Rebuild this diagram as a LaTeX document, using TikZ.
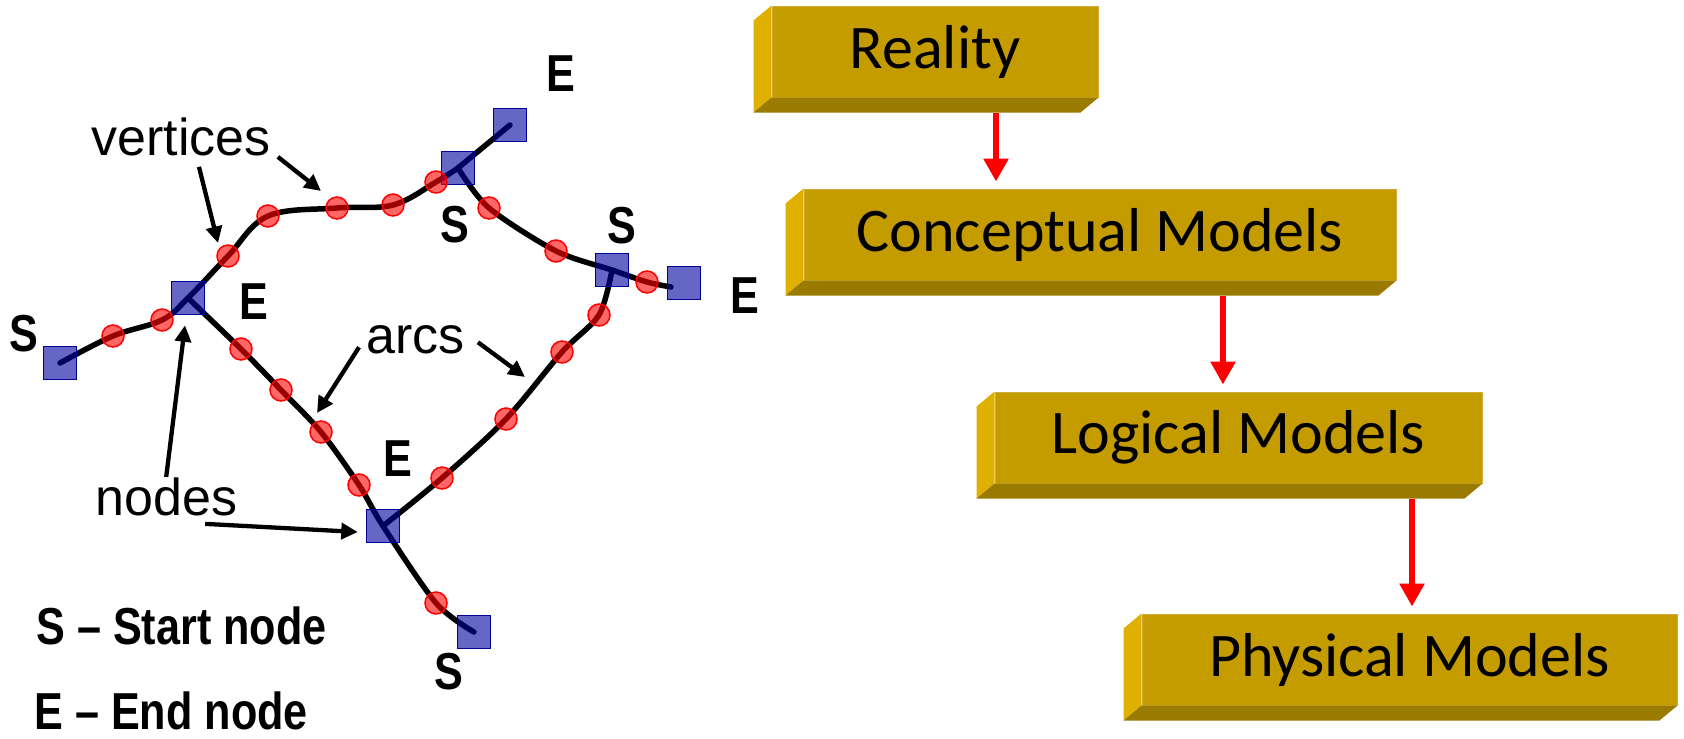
\documentclass[tikz,border=0pt]{standalone}
\usepackage{fontspec}
\setmainfont{Liberation Sans}
\newfontfamily\tagfamily[FakeStretch=0.83]{Liberation Sans}
\newfontfamily\slabfamily{Carlito}
\usepackage{tikz}
\usetikzlibrary{arrows.meta, backgrounds}
\newlength{\pxu}
\setlength{\pxu}{0.02cm}

\begin{document}
\begin{tikzpicture}[x=0.02cm, y=-0.02cm,
    track/.style={line width=5.5\pxu, line cap=round},
    vertex/.style={circle, minimum size=22\pxu, inner sep=0pt, draw=red, line width=1.5\pxu, fill=red, fill opacity=0.6},
    gnode/.style={rectangle, minimum size=33\pxu, inner sep=0pt, draw=nodeedge, line width=1.5\pxu, fill=nodefill, fill opacity=0.6},
    tag/.style={inner sep=0pt, font=\tagfamily\bfseries\fontsize{29.6pt}{32pt}\selectfont},
    callout/.style={inner sep=0pt, font=\fontsize{29.6pt}{32pt}\selectfont},
    note/.style={line width=4.3\pxu, -{Triangle[width=0.32cm, length=0.33cm]}},
    slab/.style={fill=slabfront, draw=slabedge, line width=1\pxu, minimum height=91\pxu, inner sep=0pt, font=\slabfamily\fontsize{35.3pt}{40pt}\selectfont},
    flow/.style={red, line width=6\pxu, -{Triangle[width=0.48cm, length=0.46cm]}, shorten <=15\pxu, shorten >=7\pxu}]
      \definecolor{slabfront}{RGB}{196,156,0} \definecolor{slabside}{RGB}{224,176,0}
      \definecolor{slabbottom}{RGB}{154,122,0} \definecolor{slabedge}{RGB}{208,172,60}
      \definecolor{nodefill}{RGB}{0,0,160} \definecolor{nodeedge}{RGB}{0,0,150}
      \useasboundingbox (0,0) rectangle (1684,738);

      % the network: nodes, vertices and labels
      \foreach \n/\x/\y in {nS1/60/363, nA/188/298, nS2/458/168, nE1/510/125, nSR/612/270, nER/684/283, nB/383/526, nS3/474/632}
        \node[gnode] (\n) at (\x,\y) {};
      \foreach \n/\x/\y in {v1/113/336, v2/162/320, v3/228/256, v4/268/216, v5/337/208, v6/393/205, v7/436/182,
                            v8/489/208, v9/556/251, v10/647/282, v11/599/315, v12/562/352, v13/506/419, v14/442/478,
                            v15/241/349, v16/281/390, v17/321/432, v18/359/485, v19/436/603}
        \node[vertex] (\n) at (\x,\y) {};
      \coordinate (erEnd) at ([shift={(-13,4)}]nER.center);
      \begin{pgfonlayer}{background}
        \draw[track] plot[smooth, tension=0.6] coordinates {(nS1.center) (v1.center) (v2.center) (nA.center) (v3.center) (v4.center) (v5.center) (v6.center) (v7.center) (nS2.center)};
        \draw[track] (nS2.center) -- (nE1.center);
        \draw[track] plot[smooth] coordinates {(nS2.center) (v8.center) (v9.center) (nSR.center) (v10.center) (erEnd)};
        \draw[track] plot[smooth] coordinates {(nSR.center) (v11.center) (v12.center) (v13.center) (v14.center) (nB.center)};
        \draw[track] plot[smooth] coordinates {(nA.center) (v15.center) (v16.center) (v17.center) (v18.center) (nB.center) (v19.center) (nS3.center)};
      \end{pgfonlayer}

      \foreach \n/\x/\y/\t in {tS1/24/334/S, tA/254/302/E, tE1/561/74/E, tS2/455/225/S, tSR/622/226/S, tER/745/296/E, tB/398/459/E, tS3/449/672/S}
        \node[tag] (\n) at (\x,\y) {\t};
      \node[tag, anchor=base west] (legS) at (36,644) {S – Start node};
      \node[tag, anchor=base west] (legE) at (34,729) {E – End node};

      \node[callout, anchor=base west] (vtxlabel) at (91,155) {vertices};
      \node[callout, anchor=base west] (arclabel) at (366,353) {arcs};
      \node[callout, anchor=base west] (nodelabel) at (95,515) {nodes};
      \coordinate (arcL) at (317,413);
      \coordinate (arcR) at (525,377);
      \draw[note] ([shift={(18,11)}]vtxlabel.south) -- ([shift={(-10,-13)}]v3.center);
      \draw[note] ([shift={(7,1)}]vtxlabel.south east) -- ([shift={(-16,-17)}]v5.center);
      \draw[note] ([shift={(-7,8)}]arclabel.west) -- (arcL);
      \draw[note] ([shift={(13,3)}]arclabel.east) -- (arcR);
      \draw[note] (nodelabel.north) -- ([shift={(-3,10)}]nA.south);
      \draw[note] ([shift={(39,8)}]nodelabel.south) -- ([shift={(-8,6)}]nB.west);

      % the modelling levels
      \foreach \name/\cx/\cy/\w/\txt in {reality/935/51.5/326/Reality, concept/1100/234.5/592/Conceptual Models,
                                        logical/1238.5/437.5/487/Logical Models, physical/1409.5/659.5/535/Physical Models} {
        \node[slab, minimum width=\w\pxu] (\name) at (\cx,\cy) {\txt};
        \fill[slabside] (\name.north west) -- ++(-18,15) -- ([shift={(-18,15)}]\name.south west) -- (\name.south west) -- cycle;
        \fill[slabbottom] (\name.south west) -- ++(-18,15) -- ([shift={(-18,15)}]\name.south east) -- (\name.south east) -- cycle;
      }
      \coordinate (f1) at (996,0);
      \coordinate (f2) at (1223,0);
      \coordinate (f3) at (1412,0);
      \draw[flow] (reality.south -| f1) -- (concept.north -| f1);
      \draw[flow] (concept.south -| f2) -- (logical.north -| f2);
      \draw[flow] (logical.south -| f3) -- (physical.north -| f3);
    \end{tikzpicture}
\end{document}
